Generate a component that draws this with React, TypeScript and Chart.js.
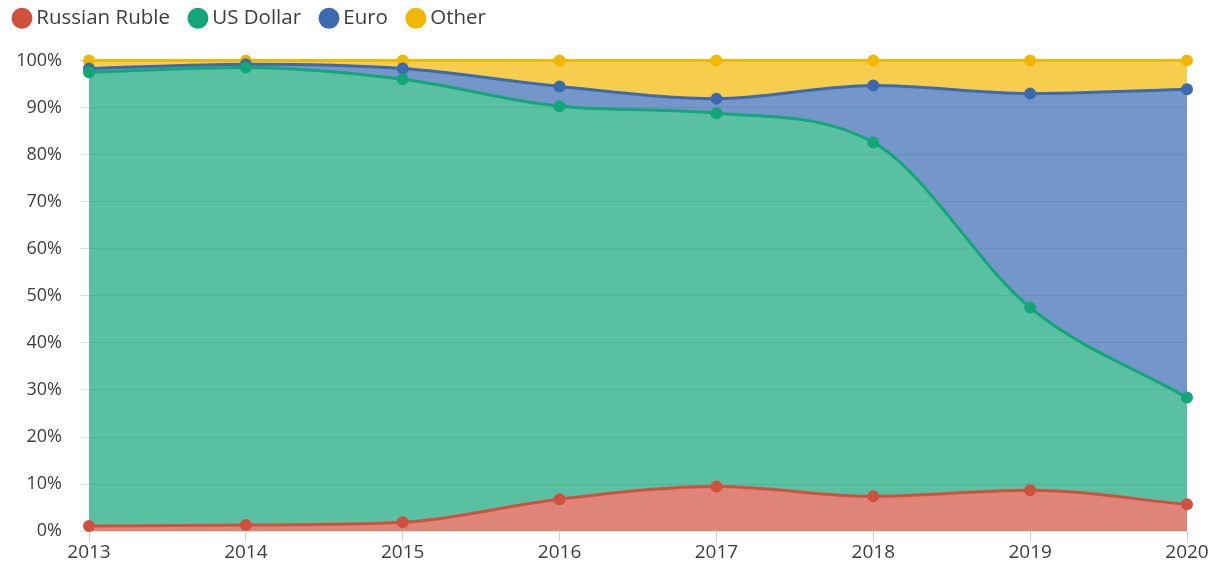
import React, { useEffect, useRef } from "react";
import { Chart, registerables } from "chart.js";

Chart.register(...registerables);

const years = ["2013", "2014", "2015", "2016", "2017", "2018", "2019", "2020"];
const rubleShare = [1.1, 1.3, 1.9, 6.8, 9.5, 7.4, 8.7, 5.7];
const dollarShare = [96.4, 97.2, 94.1, 83.5, 79.3, 75.2, 38.8, 22.7];
const euroShare = [0.8, 0.7, 2.3, 4.2, 3.1, 12.1, 45.5, 65.5];
const otherShare = [1.7, 0.8, 1.7, 5.5, 8.1, 5.3, 7.0, 6.1];

const FONT = "'Open Sans', sans-serif";

function mk(label: string, data: number[], color: string, fillColor: string, fill: any) {
  return {
    label,
    data,
    borderColor: color,
    backgroundColor: fillColor,
    pointBackgroundColor: color,
    pointBorderColor: color,
    pointRadius: 4.5,
    pointHoverRadius: 5,
    borderWidth: 3,
    fill,
    cubicInterpolationMode: "monotone" as const,
    clip: false as any,
  };
}

const legendSpace = {
  id: "legendSpace",
  beforeInit(chart: any) {
    const orig = chart.legend.fit;
    chart.legend.fit = function () {
      orig.bind(this)();
      this.height += 22;
    };
  },
};

export default function App() {
  const ref = useRef<HTMLCanvasElement>(null);
  useEffect(() => {
    document.body.style.margin = "0";
    const chart = new Chart(ref.current!, {
      type: "line",
      data: {
        labels: years,
        datasets: [
          mk("Russian Ruble", rubleShare, "#d0503e", "rgba(208,80,62,0.7)", "origin"),
          mk("US Dollar", dollarShare, "#12a679", "rgba(18,166,121,0.7)", "-1"),
          mk("Euro", euroShare, "#3b6ab0", "rgba(59,106,176,0.7)", "-1"),
          mk("Other", otherShare, "#f2b800", "rgba(242,184,0,0.7)", "-1"),
        ],
      },
      plugins: [legendSpace],
      options: {
        animation: false,
        responsive: true,
        maintainAspectRatio: false,
        layout: { padding: { left: -6, right: 42, top: -16, bottom: 0 } },
        plugins: {
          tooltip: { enabled: false },
          legend: {
            position: "top",
            align: "start",
            labels: {
              usePointStyle: true,
              pointStyle: "circle",
              boxWidth: 8,
              boxHeight: 12.7,
              padding: 24,
              color: "#3d3d3d",
              font: { family: FONT, size: 20.5 },
            },
          },
        },
        scales: {
          x: {
            offset: false,
            grid: { display: true, drawOnChartArea: false, drawTicks: true, tickLength: 10, color: "#cccccc" },
            border: { display: false },
            ticks: { color: "#3d3d3d", font: { family: FONT, size: 19 }, padding: 0, maxRotation: 0 },
          },
          y: {
            stacked: true,
            min: 0,
            max: 100,
            grid: { color: "#dddddd", tickLength: 9, lineWidth: 1 },
            border: { display: false },
            afterFit: (scale: any) => {
              scale.width = 95;
            },
            ticks: {
              stepSize: 10,
              color: "#3d3d3d",
              font: { family: FONT, size: 18 },
              padding: 18,
              callback: (v: any) => v + "%",
            },
          },
        },
      },
    });
    return () => chart.destroy();
  }, []);
  return (
    <div style={{ width: 1229, height: 564, position: "relative" }}>
      <canvas ref={ref} />
    </div>
  );
}
